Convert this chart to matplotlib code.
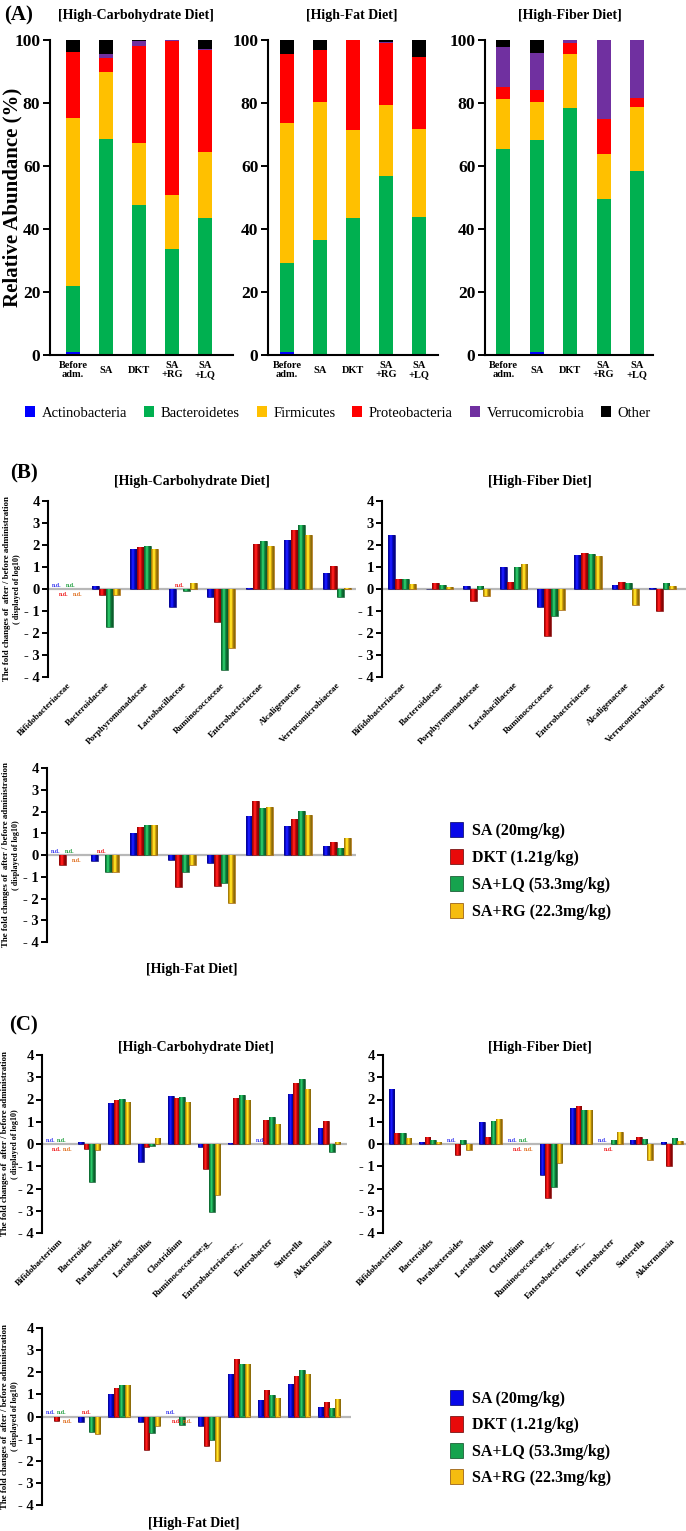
import matplotlib
matplotlib.use('Agg')
import matplotlib.pyplot as plt
from matplotlib.patches import Patch
from matplotlib.colors import to_rgb
import numpy as np

plt.rcParams['font.family'] = ['Liberation Serif', 'DejaVu Serif']

# ---------------- Panel A data (relative abundance, %) ----------------
phyla = ['Actinobacteria', 'Bacteroidetes', 'Firmicutes', 'Proteobacteria', 'Verrucomicrobia', 'Other']
groups_A = ['Before\nadm.', 'SA', 'DKT', 'SA\n+RG', 'SA\n+LQ']

carb_actinobacteria = [0.8, 0.0, 0.0, 0.0, 0.0]
carb_bacteroidetes = [21.1, 68.6, 47.6, 33.5, 43.4]
carb_firmicutes = [53.4, 21.3, 19.6, 17.3, 21.0]
carb_proteobacteria = [20.8, 4.5, 31.0, 48.9, 32.4]
carb_verrucomicrobia = [0.0, 1.2, 1.6, 0.3, 0.3]
carb_other = [3.9, 4.4, 0.2, 0.0, 2.9]

fat_actinobacteria = [0.8, 0.0, 0.0, 0.0, 0.0]
fat_bacteroidetes = [28.3, 36.5, 43.6, 56.8, 43.9]
fat_firmicutes = [44.7, 43.9, 27.8, 22.5, 27.7]
fat_proteobacteria = [21.8, 16.4, 28.5, 19.9, 22.9]
fat_verrucomicrobia = [0.0, 0.0, 0.0, 0.2, 0.2]
fat_other = [4.4, 3.2, 0.1, 0.6, 5.3]

fiber_actinobacteria = [0.0, 1.0, 0.0, 0.0, 0.0]
fiber_bacteroidetes = [65.4, 67.3, 78.3, 49.4, 58.5]
fiber_firmicutes = [15.8, 12.1, 17.3, 14.4, 20.3]
fiber_proteobacteria = [3.8, 3.7, 3.3, 11.1, 2.7]
fiber_verrucomicrobia = [12.9, 11.7, 1.1, 25.0, 18.5]
fiber_other = [2.1, 4.2, 0.0, 0.1, 0.0]

# ---------------- Panel B data (log10 fold change, family) ----------------
nd = np.nan
treatments = ['SA (20mg/kg)', 'DKT (1.21g/kg)', 'SA+LQ (53.3mg/kg)', 'SA+RG (22.3mg/kg)']
families = ['Bifidobacteriaceae', 'Bacteroidaceae', 'Porphyromonadaceae', 'Lactobacillaceae',
            'Ruminococcaceae', 'Enterobacteriaceae', 'Alcaligenaceae', 'Verrucomicrobiaceae']

B_carb_SA = [nd, 0.12, 1.80, -0.83, -0.36, 0.06, 2.24, 0.73]
B_carb_DKT = [nd, -0.26, 1.91, nd, -1.48, 2.06, 2.67, 1.03]
B_carb_LQ = [nd, -1.73, 1.95, -0.09, -3.67, 2.20, 2.91, -0.36]
B_carb_RG = [nd, -0.26, 1.80, 0.26, -2.68, 1.95, 2.47, 0.04]

B_fiber_SA = [2.44, 0.02, 0.15, 1.00, -0.83, 1.55, 0.20, 0.06]
B_fiber_DKT = [0.47, 0.29, -0.53, 0.32, -2.15, 1.65, 0.32, -1.02]
B_fiber_LQ = [0.47, 0.20, 0.15, 1.00, -1.23, 1.58, 0.26, 0.26]
B_fiber_RG = [0.21, 0.08, -0.30, 1.14, -0.97, 1.48, -0.74, 0.12]

B_fat_SA = [nd, -0.28, 1.01, -0.23, -0.35, 1.80, 1.32, 0.43]
B_fat_DKT = [-0.48, nd, 1.28, -1.47, -1.41, 2.49, 1.66, 0.62]
B_fat_LQ = [nd, -0.77, 1.40, -0.76, -1.29, 2.18, 2.03, 0.34]
B_fat_RG = [nd, -0.80, 1.40, -0.45, -2.20, 2.20, 1.85, 0.77]

# ---------------- Panel C data (log10 fold change, genus) ----------------
genera = ['Bifidobacterium', 'Bacteroides', 'Parabacteroides', 'Lactobacillus', 'Clostridium',
          'Ruminococcaceae;g_', 'Enterobacteriaceae;_', 'Enterobacter', 'Sutterella', 'Akkermansia']

C_carb_SA = [nd, 0.11, 1.84, -0.83, 2.16, -0.12, 0.04, nd, 2.24, 0.74]
C_carb_DKT = [nd, -0.22, 1.98, -0.15, 2.07, -1.12, 2.07, 1.06, 2.73, 1.03]
C_carb_LQ = [nd, -1.70, 2.02, -0.09, 2.11, -3.04, 2.22, 1.21, 2.92, -0.35]
C_carb_RG = [nd, -0.28, 1.87, 0.29, 1.90, -2.29, 1.98, 0.92, 2.47, 0.08]

C_fiber_SA = [2.45, 0.07, nd, 0.99, nd, -1.38, 1.62, nd, 0.20, 0.09]
C_fiber_DKT = [0.49, 0.30, -0.48, 0.32, nd, -2.43, 1.72, nd, 0.31, -1.00]
C_fiber_LQ = [0.49, 0.20, 0.20, 1.05, nd, -1.95, 1.51, 0.20, 0.24, 0.27]
C_fiber_RG = [0.27, 0.07, -0.28, 1.12, nd, -0.85, 1.54, 0.54, -0.70, 0.15]

C_fat_SA = [nd, -0.25, 1.03, -0.25, nd, -0.45, 1.93, 0.75, 1.49, 0.45]
C_fat_DKT = [-0.22, nd, 1.30, -1.50, nd, -1.34, 2.60, 1.19, 1.82, 0.66]
C_fat_LQ = [nd, -0.72, 1.43, -0.75, -0.37, -1.04, 2.37, 0.95, 2.12, 0.37]
C_fat_RG = [nd, -0.77, 1.43, -0.43, nd, -2.01, 2.37, 0.85, 1.94, 0.78]

fold_ticks = [-4, -3, -2, -1, 0, 1, 2, 3, 4]
fold_ticklabels = ['- 4', '- 3', '- 2', '- 1', '0', '1', '2', '3', '4']

# ---------------- styling ----------------
phylum_colors = ['#0000FF', '#00B050', '#FFC000', '#FF0000', '#7030A0', '#000000']
bar_colors = ['#0808E8', '#E80A0A', '#16A34E', '#F5BC10']
bar_edges = ['#000060', '#600000', '#0A4A22', '#8A4A00']
nd_colors = ['#3A3AF0', '#F02020', '#20A040', '#E07020']

W, H = 686, 1531
fig = plt.figure(figsize=(W / 100, H / 100), dpi=100)


def axes_px(l, t, r, b):
    return fig.add_axes([l / W, 1 - b / H, (r - l) / W, (b - t) / H])


def ftext(x, y, s, **kw):
    fig.text(x / W, 1 - y / H, s, **kw)


def gradient_img(color):
    c = np.array(to_rgb(color))
    t = np.linspace(0, 1, 24)
    # darker at edges, lighter just left of centre (cylinder look)
    shade = 0.55 + 0.6 * np.exp(-((t - 0.42) / 0.28) ** 2)
    rgb = np.clip(c[None, :] * shade[:, None] + (shade[:, None] > 1.05) * 0.08, 0, 1)
    return rgb[None, :, :]


BOLD = dict(fontweight='bold')

# ---------------- Panel A ----------------
A_data = [
    [carb_actinobacteria, carb_bacteroidetes, carb_firmicutes, carb_proteobacteria, carb_verrucomicrobia, carb_other],
    [fat_actinobacteria, fat_bacteroidetes, fat_firmicutes, fat_proteobacteria, fat_verrucomicrobia, fat_other],
    [fiber_actinobacteria, fiber_bacteroidetes, fiber_firmicutes, fiber_proteobacteria, fiber_verrucomicrobia, fiber_other],
]
A_boxes = [(50, 40, 233, 355), (268, 40, 438, 355), (485, 40, 653, 355)]
A_xlims = [(-0.70, 4.85), (-0.58, 4.58), (-0.55, 4.48)]
A_titles = ['[High-Carbohydrate Diet]', '[High-Fat Diet]', '[High-Fiber Diet]']
A_title_x = [136, 352, 570]

for data, box, xl, title, tx in zip(A_data, A_boxes, A_xlims, A_titles, A_title_x):
    ax = axes_px(*box)
    x = np.arange(len(groups_A))
    bottom = np.zeros(len(groups_A))
    for vals, col in zip(data, phylum_colors):
        v = np.array(vals, dtype=float)
        ax.bar(x, v, 0.42, bottom=bottom, color=col, edgecolor='none', zorder=2)
        bottom += v
    ax.set_xlim(*xl)
    ax.set_ylim(0, 100)
    ax.set_yticks([0, 20, 40, 60, 80, 100])
    ax.tick_params(axis='y', labelsize=12.5, width=1.4, length=5, direction='out', pad=2)
    for lab in ax.get_yticklabels():
        lab.set_fontweight('bold')
    ax.set_xticks(x)
    ax.set_xticklabels(groups_A, fontsize=7.5, fontweight='bold', linespacing=1.05)
    ax.tick_params(axis='x', length=0, pad=11)
    for lab in ax.get_xticklabels():
        lab.set_verticalalignment('center')
    for s in ['top', 'right']:
        ax.spines[s].set_visible(False)
    for s in ['left', 'bottom']:
        ax.spines[s].set_linewidth(1.5)
    ftext(tx, 15, title, ha='center', va='center', fontsize=10, **BOLD)

ftext(19, 15, '(A)', ha='center', va='center', fontsize=15, **BOLD)
ftext(12, 197, 'Relative Abundance (%)', ha='center', va='center', rotation=90, fontsize=15, **BOLD)

handles_A = [Patch(facecolor=c, edgecolor='none') for c in phylum_colors]
fig.legend(handles_A, phyla, loc='center', bbox_to_anchor=(338 / W, 1 - 413 / H), ncol=6,
           frameon=False, fontsize=10.5, handlelength=0.7, handleheight=0.7,
           handletextpad=0.45, columnspacing=1.15, borderaxespad=0, borderpad=0)


# ---------------- fold-change panels ----------------
def fold_panel(box, cats, series, xl, width, ylabel_x=None, show_labels=True, label_fs=6.5):
    ax = axes_px(*box)
    x = np.arange(len(cats))
    for i, vals in enumerate(series):
        v = np.array(vals, dtype=float)
        off = (i - 1.5) * width
        m = ~np.isnan(v)
        bars = ax.bar(x[m] + off, v[m], width, color=bar_colors[i], edgecolor=bar_edges[i],
                      linewidth=0.4, zorder=3)
        img = gradient_img(bar_colors[i])
        for rect in bars:
            x0, y0 = rect.get_x(), rect.get_y()
            w_, h_ = rect.get_width(), rect.get_height()
            im = ax.imshow(img, extent=[x0, x0 + w_, y0, y0 + h_], aspect='auto',
                           interpolation='bilinear', zorder=3.5)
            im.set_clip_path(rect)
        for j in np.where(~m)[0]:
            above = (i == 0 or i == 2 or (i == 1 and not np.isnan(series[0][j])))
            yy = 0.17 if above else -0.24
            ax.text(x[j] + off, yy, 'n.d.', color=nd_colors[i], fontsize=4.2,
                    ha='center', va='center', fontweight='bold', zorder=4)
    ax.axhline(0, color='#b8b8b8', lw=1.6, zorder=1)
    ax.set_aspect('auto')
    ax.set_xlim(*xl)
    ax.set_ylim(-4, 4)
    ax.set_yticks(fold_ticks)
    ax.set_yticklabels(fold_ticklabels, fontsize=10.5, fontweight='bold')
    ax.tick_params(axis='y', width=1.4, length=4, direction='out', pad=2)
    ax.set_xticks(x)
    if show_labels:
        ax.set_xticklabels(cats, rotation=45, ha='right', rotation_mode='anchor',
                           fontsize=label_fs, fontweight='bold')
    else:
        ax.set_xticklabels([])
    ax.tick_params(axis='x', length=0, pad=3)
    for s in ['top', 'right', 'bottom']:
        ax.spines[s].set_visible(False)
    ax.spines['left'].set_linewidth(1.5)
    if ylabel_x is not None:
        yc = (box[1] + box[3]) / 2
        ftext(ylabel_x, yc, 'The fold changes of  after / before administration', rotation=90,
              ha='center', va='center', fontsize=6.4, **BOLD)
        ftext(ylabel_x + 10, yc, '( displayed of log10)', rotation=90,
              ha='center', va='center', fontsize=5.9, **BOLD)
    return ax


# Panel B
ftext(24, 473, '(B)', ha='center', va='center', fontsize=15, **BOLD)
ftext(192, 481, '[High-Carbohydrate Diet]', ha='center', va='center', fontsize=10, **BOLD)
ftext(540, 481, '[High-Fiber Diet]', ha='center', va='center', fontsize=10, **BOLD)
fold_panel((48, 501, 356, 677), families, [B_carb_SA, B_carb_DKT, B_carb_LQ, B_carb_RG],
           (-0.5, 7.5), 0.18, ylabel_x=7)
fold_panel((382, 501, 686, 677), families, [B_fiber_SA, B_fiber_DKT, B_fiber_LQ, B_fiber_RG],
           (-0.54, 7.63), 0.185)
fold_panel((47, 768, 356, 942), families, [B_fat_SA, B_fat_DKT, B_fat_LQ, B_fat_RG],
           (-0.5, 7.5), 0.18, ylabel_x=6, show_labels=False)
ftext(192, 969, '[High-Fat Diet]', ha='center', va='center', fontsize=10, **BOLD)

handles_BC = [Patch(facecolor=c, edgecolor=e, linewidth=0.5) for c, e in zip(bar_colors, bar_edges)]
fig.legend(handles_BC, treatments, loc='upper left', bbox_to_anchor=(450 / W, 1 - 822 / H),
           frameon=False, handlelength=0.8, handleheight=1.1,
           handletextpad=0.6, labelspacing=0.62, borderaxespad=0, borderpad=0,
           prop=dict(weight='bold', size=11.5))

# Panel C
ftext(24, 1025, '(C)', ha='center', va='center', fontsize=15, **BOLD)
ftext(196, 1048, '[High-Carbohydrate Diet]', ha='center', va='center', fontsize=10, **BOLD)
ftext(540, 1048, '[High-Fiber Diet]', ha='center', va='center', fontsize=10, **BOLD)
fold_panel((42, 1055, 347, 1233), genera, [C_carb_SA, C_carb_DKT, C_carb_LQ, C_carb_RG],
           (-0.57, 9.6), 0.185, ylabel_x=5)
fold_panel((383, 1055, 686, 1233), genera, [C_fiber_SA, C_fiber_DKT, C_fiber_LQ, C_fiber_RG],
           (-0.56, 9.47), 0.185)
fold_panel((42, 1328, 351, 1505), genera, [C_fat_SA, C_fat_DKT, C_fat_LQ, C_fat_RG],
           (-0.57, 9.73), 0.185, ylabel_x=5, show_labels=False)
ftext(194, 1523, '[High-Fat Diet]', ha='center', va='center', fontsize=10, **BOLD)

fig.legend(handles_BC, treatments, loc='upper left', bbox_to_anchor=(450 / W, 1 - 1390 / H),
           frameon=False, handlelength=0.8, handleheight=1.1,
           handletextpad=0.6, labelspacing=0.58, borderaxespad=0, borderpad=0,
           prop=dict(weight='bold', size=11.5))

fig.savefig('out.png', dpi=100)
